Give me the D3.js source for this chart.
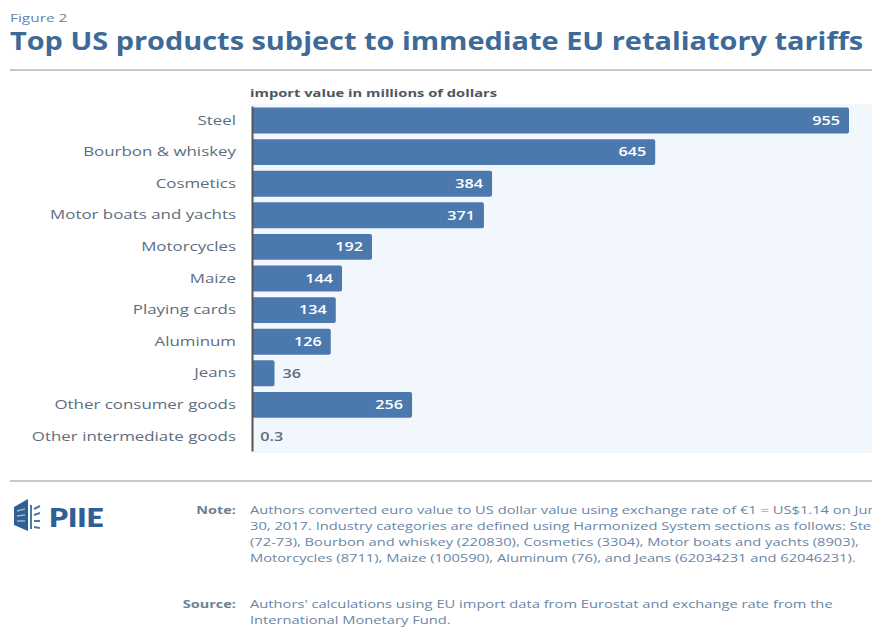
<!DOCTYPE html>
<html>
<head>
<meta charset="utf-8">
<script src="https://cdn.jsdelivr.net/npm/d3@7"></script>
<style>
  body { margin: 0; background: #fff; }
  svg { display: block; font-family: "Open Sans", Lato, sans-serif; }
</style>
</head>
<body>
<div id="chart"></div>
<script>
// data
var categories = ["Steel", "Bourbon & whiskey", "Cosmetics", "Motor boats and yachts", "Motorcycles",
  "Maize", "Playing cards", "Aluminum", "Jeans", "Other consumer goods", "Other intermediate goods"];
var values = [955, 645, 384, 371, 192, 144, 134, 126, 36, 256, 0.3];
var valueLabels = ["955", "645", "384", "371", "192", "144", "134", "126", "36", "256", "0.3"];

var noteLines = [
  "Authors converted euro value to US dollar value using exchange rate of \u20ac1 = US$1.14 on June",
  "30, 2017. Industry categories are defined using Harmonized System sections as follows: Steel",
  "(72-73), Bourbon and whiskey (220830), Cosmetics (3304), Motor boats and yachts (8903),",
  "Motorcycles (8711), Maize (100590), Aluminum (76), and Jeans (62034231 and 62046231)."
];
var sourceLines = [
  "Authors' calculations using EU import data from Eurostat and exchange rate from the",
  "International Monetary Fund."
];

var W = 872, H = 628;
var svg = d3.select("#chart").append("svg").attr("width", W).attr("height", H);

var blue = "#4b79ad", textGray = "#5d6d80", titleBlue = "#3d6a98";

// the original face is much wider than Open Sans, so text gets stretched horizontally
function wide(sel, x, y, sx) {
  return sel.attr("x", 0).attr("y", 0)
    .attr("transform", "translate(" + x + "," + y + ") scale(" + sx + ",1)");
}

// header
wide(svg.append("text"), 10, 22, 1.4)
  .attr("font-size", 11).attr("fill", "#5f86ad").text("Figure 2");
wide(svg.append("text"), 10, 50, 1.18)
  .attr("font-size", 24.5).attr("font-weight", 700).attr("fill", titleBlue)
  .text("Top US products subject to immediate EU retaliatory tariffs");
svg.append("line").attr("x1", 10).attr("x2", W).attr("y1", 70).attr("y2", 70)
  .attr("stroke", "#b5b9bd").attr("stroke-width", 1.5);

// chart
var margin = {top: 104, left: 252, bottom: 453},
    g = svg.append("g");

g.append("rect").attr("x", margin.left).attr("y", margin.top)
  .attr("width", W - margin.left).attr("height", margin.bottom - margin.top)
  .attr("fill", "#f1f7fc");

var x = d3.scaleLinear().domain([0, 955]).range([margin.left, 849]);
var y = d3.scaleBand().domain(categories).range([margin.top + 2, margin.bottom - 2]).paddingInner(0.18).paddingOuter(0.05);

wide(svg.append("text"), 250, 97, 1.4)
  .attr("font-size", 10.5).attr("font-weight", 700).attr("fill", "#4c5661")
  .text("import value in millions of dollars");

g.selectAll(".bar").data(values).enter().append("rect")
  .attr("class", "bar")
  .attr("x", x(0))
  .attr("y", function(d, i) { return y(categories[i]); })
  .attr("width", function(d) { return x(d) - x(0); })
  .attr("height", y.bandwidth())
  .attr("rx", 2)
  .attr("fill", blue);

g.selectAll(".val").data(values).enter().append("text")
  .attr("class", "val")
  .attr("transform", function(d, i) {
    var tx = d > 60 ? x(d) - 9 : x(d) + 8;
    return "translate(" + tx + "," + (y(categories[i]) + y.bandwidth() / 2) + ") scale(1.35,1)";
  })
  .attr("dy", "0.36em")
  .attr("text-anchor", function(d) { return d > 60 ? "end" : "start"; })
  .attr("font-size", 12)
  .attr("font-weight", 600)
  .attr("fill", function(d) { return d > 60 ? "#fff" : "#5d6d80"; })
  .text(function(d, i) { return valueLabels[i]; });

var yAxis = g.append("g")
  .attr("transform", "translate(" + margin.left + ",0)")
  .call(d3.axisLeft(y).tickSize(0).tickPadding(16));
yAxis.select(".domain").attr("stroke", "#555").attr("stroke-width", 2);
yAxis.selectAll(".tick text").attr("font-size", 13).attr("fill", textGray)
  .attr("font-family", "'Open Sans', Lato, sans-serif")
  .attr("transform", "translate(-16,0) scale(1.3,1)").attr("x", 0);

// footer
svg.append("line").attr("x1", 10).attr("x2", W).attr("y1", 481).attr("y2", 481)
  .attr("stroke", "#b5b9bd").attr("stroke-width", 1.5);

// PIIE logo
var logo = svg.append("g").attr("transform", "translate(14,499)");
logo.append("path").attr("d", "M0,8 L14,0 L14,32 L0,26 Z").attr("fill", "#2f5f95");
logo.append("path").attr("d", "M3,12 L11,10 M3,17 L11,16 M3,22 L11,22").attr("stroke", "#9bb5d1").attr("stroke-width", 1.5);
logo.append("path").attr("d", "M17,6 L17,30 M20,10 L26,7 M20,16 L26,14 M20,22 L26,22 M20,28 L26,29")
  .attr("stroke", "#4b79ad").attr("stroke-width", 2);
wide(svg.append("text"), 49, 527, 1.15)
  .attr("font-size", 26).attr("font-weight", 800).attr("fill", "#2f5f95")
  .attr("font-family", "Lato, 'Open Sans', sans-serif").text("PIIE");

function block(label, lines, y0) {
  wide(svg.append("text"), 236, y0, 1.38).attr("text-anchor", "end")
    .attr("font-size", 10.5).attr("font-weight", 700).attr("fill", "#6d7f92").text(label);
  svg.append("g").selectAll("text").data(lines).enter().append("text")
    .attr("transform", function(d, i) { return "translate(250," + (y0 + i * 16) + ") scale(1.4,1)"; })
    .attr("font-size", 10.5).attr("fill", "#6a86a6").text(function(d) { return d; });
}
block("Note:", noteLines, 514);
block("Source:", sourceLines, 608);
</script>
</body>
</html>
